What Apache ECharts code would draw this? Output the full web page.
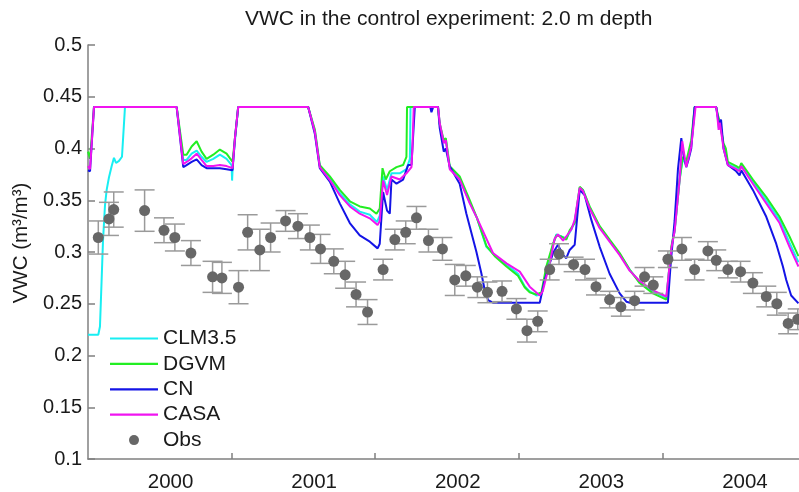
<!DOCTYPE html>
<html><head><meta charset="utf-8">
<script src="https://cdn.jsdelivr.net/npm/echarts@6/dist/echarts.min.js"></script>
<style>html,body{margin:0;padding:0;background:#fff}#c{width:799px;height:492px}</style>
</head><body><div id="c"></div>
<script>
// x values are months since 1 Jan 2000
const yearLabels = ['2000','2001','2002','2003','2004'];
const yearLabelMonths = [6.9, 18.9, 30.9, 42.9, 54.9];
const yearBoundaryMonths = [12, 24, 36, 48];
const seriesNames = ['CLM3.5','DGVM','CN','CASA','Obs'];

const CLM35 = [[0,0.22],[0.86,0.22],[1.0,0.228],[1.13,0.27],[1.25,0.31],[1.42,0.345],[1.56,0.36],[1.75,0.372],[1.98,0.383],[2.17,0.391],[2.34,0.386],[2.59,0.388],[2.84,0.392],[3.09,0.44],[7.41,0.44],[7.96,0.389],[8.24,0.389],[8.66,0.395],[9.08,0.398],[9.49,0.392],[9.91,0.387],[10.47,0.39],[11.02,0.394],[11.58,0.39],[12.0,0.384],[12.04,0.369],[12.1,0.384],[12.3,0.41],[12.55,0.44],[18.4,0.44],[18.96,0.417],[19.37,0.383],[20.21,0.371],[21.04,0.357],[21.88,0.346],[22.71,0.339],[23.55,0.336],[24.15,0.329],[24.38,0.335],[24.66,0.373],[24.99,0.36],[25.36,0.376],[26.05,0.376],[26.61,0.38],[26.9,0.39],[26.95,0.44],[29.25,0.44],[29.39,0.424],[29.73,0.406],[29.9,0.409],[30.23,0.381],[31.06,0.371],[31.9,0.348],[32.5,0.333],[33.29,0.305],[33.99,0.297],[34.97,0.288],[35.93,0.279],[36.49,0.267],[36.91,0.262],[37.47,0.258],[37.89,0.259],[38.3,0.282],[38.86,0.307],[39.14,0.317],[39.56,0.315],[39.97,0.313],[40.4,0.322],[40.67,0.329],[41.09,0.362],[41.36,0.36],[41.92,0.343],[42.76,0.324],[43.59,0.311],[44.43,0.298],[45.26,0.283],[46.1,0.271],[47.21,0.262],[48.33,0.256],[48.46,0.256],[48.74,0.303],[49.02,0.32],[49.44,0.37],[49.7,0.39],[50.0,0.384],[50.41,0.404],[50.73,0.44],[52.5,0.44],[52.62,0.43],[52.72,0.42],[52.82,0.426],[53.11,0.402],[53.47,0.385],[54.17,0.381],[54.45,0.379],[54.59,0.384],[55.56,0.368],[56.68,0.35],[57.79,0.331],[58.62,0.309],[59.37,0.29]];

const DGVM = [[0,0.397],[0.17,0.39],[0.5,0.44],[7.41,0.44],[7.96,0.394],[8.24,0.394],[8.66,0.402],[9.08,0.407],[9.49,0.397],[9.91,0.39],[10.47,0.394],[11.02,0.399],[11.58,0.395],[12.08,0.387],[12.28,0.41],[12.55,0.44],[18.4,0.44],[18.96,0.418],[19.37,0.384],[20.21,0.373],[21.04,0.36],[21.88,0.349],[22.71,0.344],[23.55,0.342],[24.11,0.337],[24.38,0.342],[24.61,0.381],[24.88,0.37],[25.22,0.378],[25.78,0.382],[26.33,0.384],[26.61,0.392],[26.66,0.44],[29.25,0.44],[29.39,0.424],[29.73,0.408],[29.9,0.41],[30.23,0.383],[31.06,0.373],[31.9,0.35],[32.5,0.333],[33.29,0.306],[33.99,0.296],[34.97,0.286],[35.93,0.277],[36.49,0.266],[36.91,0.261],[37.47,0.259],[37.89,0.261],[38.3,0.286],[38.86,0.308],[39.14,0.316],[39.56,0.315],[39.97,0.312],[40.25,0.321],[40.67,0.328],[41.09,0.363],[41.36,0.36],[41.92,0.344],[42.76,0.325],[43.59,0.312],[44.43,0.299],[45.26,0.283],[46.1,0.27],[47.21,0.26],[48.33,0.254],[48.46,0.255],[48.74,0.305],[49.02,0.321],[49.44,0.37],[49.7,0.392],[50.0,0.388],[50.41,0.408],[50.69,0.44],[52.5,0.44],[52.64,0.432],[52.75,0.428],[53.11,0.405],[53.3,0.4],[53.47,0.387],[54.17,0.383],[54.45,0.381],[54.59,0.386],[55.56,0.37],[56.68,0.353],[57.79,0.334],[58.62,0.315],[59.37,0.296]];

const CN = [[0,0.379],[0.17,0.378],[0.5,0.44],[7.41,0.44],[7.96,0.382],[8.24,0.384],[8.66,0.387],[9.08,0.3895],[9.49,0.384],[9.91,0.381],[10.47,0.381],[11.02,0.381],[11.58,0.38],[12.08,0.379],[12.28,0.41],[12.55,0.44],[18.4,0.44],[18.96,0.414],[19.37,0.381],[20.21,0.368],[21.04,0.347],[21.88,0.328],[22.71,0.316],[23.55,0.31],[24.2,0.3035],[24.38,0.308],[24.66,0.358],[24.99,0.34],[25.22,0.337],[25.36,0.37],[25.78,0.366],[26.33,0.37],[26.75,0.384],[27.03,0.384],[27.31,0.44],[28.6,0.44],[28.7,0.435],[28.84,0.44],[29.25,0.44],[29.39,0.42],[29.73,0.397],[29.9,0.4],[30.23,0.3825],[31.06,0.366],[31.62,0.337],[32.46,0.3],[32.87,0.2794],[33.15,0.2633],[33.43,0.2536],[33.84,0.251],[37.75,0.251],[38.16,0.273],[38.86,0.299],[39.27,0.307],[39.69,0.297],[39.97,0.294],[40.25,0.302],[40.67,0.307],[41.09,0.36],[41.5,0.355],[42.06,0.331],[42.76,0.305],[43.59,0.279],[44.43,0.26],[44.99,0.252],[45.3,0.251],[48.46,0.251],[48.7,0.29],[49.02,0.33],[49.3,0.38],[49.58,0.41],[49.75,0.395],[49.99,0.382],[50.2,0.39],[50.41,0.4],[50.69,0.44],[52.5,0.44],[52.64,0.43],[52.75,0.422],[52.9,0.428],[53.11,0.4],[53.47,0.384],[54.17,0.378],[54.45,0.374],[54.59,0.379],[55.56,0.36],[56.68,0.334],[57.51,0.308],[58.07,0.286],[58.35,0.273],[58.76,0.258],[59.37,0.2504]];

const CASA = [[0,0.383],[0.17,0.38],[0.5,0.44],[7.41,0.44],[7.96,0.385],[8.24,0.387],[8.66,0.3905],[9.08,0.395],[9.49,0.389],[9.91,0.383],[10.47,0.383],[11.02,0.384],[11.58,0.383],[12.08,0.381],[12.28,0.41],[12.55,0.44],[18.4,0.44],[18.96,0.416],[19.37,0.382],[20.21,0.3695],[21.04,0.355],[21.88,0.344],[22.71,0.337],[23.55,0.3325],[24.2,0.326],[24.38,0.33],[24.66,0.369],[24.99,0.355],[25.36,0.373],[26.05,0.37],[26.61,0.376],[27.03,0.382],[27.11,0.4],[27.22,0.44],[29.25,0.44],[29.39,0.425],[29.73,0.405],[29.9,0.408],[30.23,0.38],[31.06,0.37],[31.9,0.347],[32.5,0.333],[33.84,0.299],[34.97,0.289],[36.08,0.281],[36.91,0.2665],[37.75,0.258],[38.0,0.262],[38.58,0.289],[39.0,0.313],[39.27,0.317],[39.7,0.311],[39.97,0.315],[40.4,0.322],[40.67,0.331],[41.09,0.362],[41.36,0.359],[41.92,0.342],[42.76,0.323],[43.59,0.31],[44.43,0.297],[45.26,0.282],[46.1,0.272],[47.21,0.263],[48.33,0.257],[48.46,0.257],[48.74,0.303],[49.02,0.32],[49.44,0.37],[49.66,0.407],[49.99,0.382],[50.41,0.402],[50.77,0.44],[52.5,0.44],[52.6,0.43],[52.7,0.418],[52.8,0.425],[53.11,0.4],[53.47,0.384],[54.17,0.38],[54.45,0.378],[54.59,0.383],[55.56,0.366],[56.68,0.347],[57.79,0.328],[58.62,0.305],[59.37,0.286]];

const obsMonth = [0.86,1.75,2.15,4.73,6.35,7.26,8.60,10.41,11.19,12.58,13.34,14.36,15.26,16.51,17.54,18.54,19.43,20.54,21.49,22.40,23.36,24.66,25.64,26.55,27.45,28.45,29.62,30.65,31.57,32.54,33.38,34.60,35.80,36.68,37.58,38.58,39.36,40.58,41.53,42.45,43.59,44.53,45.68,46.51,47.24,48.46,49.63,50.69,51.80,52.50,53.47,54.53,55.56,56.68,57.56,58.51,59.31];
const obsVWC = [0.314,0.332,0.341,0.340,0.321,0.314,0.299,0.276,0.275,0.266,0.319,0.302,0.314,0.330,0.325,0.314,0.303,0.291,0.278,0.259,0.242,0.283,0.312,0.319,0.333,0.311,0.303,0.273,0.277,0.266,0.261,0.262,0.245,0.224,0.233,0.283,0.298,0.288,0.283,0.2665,0.254,0.247,0.253,0.276,0.268,0.293,0.303,0.283,0.301,0.292,0.283,0.281,0.270,0.257,0.250,0.231,0.235];
const obsErr = [0.016,0.016,0.017,0.020,0.012,0.013,0.012,0.015,0.015,0.016,0.017,0.020,0.014,0.010,0.012,0.012,0.014,0.012,0.013,0.012,0.012,0.010,0.010,0.011,0.011,0.011,0.011,0.015,0.010,0.010,0.010,0.010,0.010,0.011,0.010,0.010,0.010,0.007,0.010,0.008,0.008,0.009,0.009,0.009,0.008,0.008,0.011,0.010,0.009,0.010,0.008,0.010,0.010,0.010,0.011,0.010,0.010];

const FONT = 'Liberation Sans, Arial, Helvetica, sans-serif';
const TXT = '#1a1a1a';
const AX = '#808080';
const COLORS = {'CLM3.5':'#18eef2', 'DGVM':'#22ee22', 'CN':'#1414e6', 'CASA':'#f014f0', 'Obs':'#676767'};
const LINE_ICON = 'path://M0 0H48V2.2H0Z';

const obsPts = obsMonth.map((m,i)=>[m, obsVWC[i]]);
const errData = obsMonth.map((m,i)=>[m, obsVWC[i], obsErr[i]]);

const chart = echarts.init(document.getElementById('c'), null, {renderer:'canvas'});
const lineSeries = (name, data) => ({
  name, type:'line', data, showSymbol:false, symbol:'none', animation:false,
  lineStyle:{color:COLORS[name], width:2}, itemStyle:{color:COLORS[name]}, z:2
});
chart.setOption({
  animation:false,
  title:{text:'VWC in the control experiment: 2.0 m depth', left:245, top:9, padding:0,
    textStyle:{fontFamily:FONT, fontSize:21, fontWeight:'normal', color:TXT}},
  grid:{left:88, top:45, width:718, height:414, containLabel:false, outerBoundsMode:'none'},
  legend:{orient:'vertical', left:105, top:323, itemWidth:48, itemHeight:10, itemGap:4.4,
    selectedMode:false,
    data:seriesNames.map(n => n === 'Obs'
      ? {name:n, icon:'circle', itemStyle:{color:COLORS[n]}}
      : {name:n, icon:LINE_ICON, itemStyle:{color:COLORS[n]}}),
    textStyle:{fontFamily:FONT, fontSize:21, color:TXT, lineHeight:21}},
  xAxis:{type:'value', min:0, max:60, interval:12,
     axisLine:{lineStyle:{color:AX, width:1.5}},
     axisTick:{inside:true, length:6, lineStyle:{color:AX, width:1.5}, customValues:yearBoundaryMonths},
     axisLabel:{fontFamily:FONT, fontSize:20.5, color:TXT, margin:13, customValues:yearLabelMonths,
       formatter:(v)=> yearLabels[yearLabelMonths.indexOf(v)] ?? ''},
     splitLine:{show:false}},
  yAxis:{type:'value', min:0.1, max:0.5, interval:0.05,
    name:'VWC (m³/m³)', nameLocation:'middle', nameGap:56,
    nameTextStyle:{fontFamily:FONT, fontSize:20.5, color:TXT, padding:[0,0,0,18]},
    axisLine:{lineStyle:{color:AX, width:1.5}}, axisTick:{inside:true, length:7, lineStyle:{color:AX, width:1.5}},
    axisLabel:{fontFamily:FONT, fontSize:20, color:TXT, margin:6}, splitLine:{show:false}},
  series:[
    lineSeries('CLM3.5', CLM35),
    lineSeries('DGVM', DGVM),
    lineSeries('CN', CN),
    lineSeries('CASA', CASA),
    {name:'ObsErr', type:'custom', data:errData, encode:{x:0, y:1}, z:3,
     renderItem:(params, api)=>{
       const x = api.value(0), y = api.value(1), e = api.value(2);
       const top = api.coord([x, y+e]), bot = api.coord([x, y-e]);
       const hw = 10;
       const st = {stroke:'#9a9a9a', lineWidth:1.5};
       return {type:'group', children:[
         {type:'line', shape:{x1:top[0], y1:top[1], x2:bot[0], y2:bot[1]}, style:st},
         {type:'line', shape:{x1:top[0]-hw, y1:top[1], x2:top[0]+hw, y2:top[1]}, style:st},
         {type:'line', shape:{x1:bot[0]-hw, y1:bot[1], x2:bot[0]+hw, y2:bot[1]}, style:st}
       ]};
     }},
    {name:'Obs', type:'scatter', data:obsPts, symbol:'circle', symbolSize:11, z:4,
     itemStyle:{color:COLORS['Obs'], opacity:1}}
  ]
});
</script></body></html>
